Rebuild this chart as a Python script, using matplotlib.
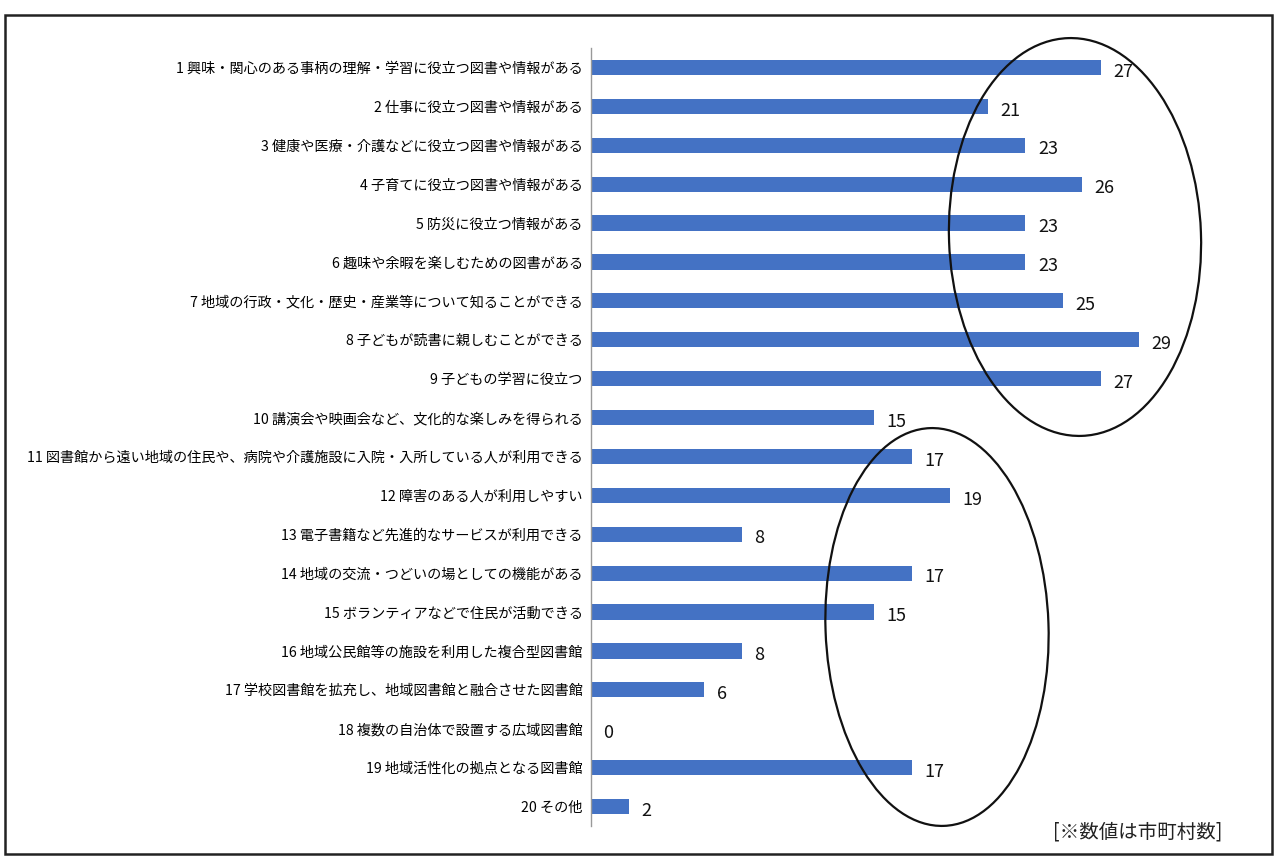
import matplotlib
matplotlib.use("Agg")
import matplotlib.pyplot as plt
from matplotlib.patches import Ellipse, Rectangle

plt.rcParams['font.family'] = ['Noto Sans CJK JP', 'DejaVu Sans']

# data
labels = [
    "1 興味・関心のある事柄の理解・学習に役立つ図書や情報がある",
    "2 仕事に役立つ図書や情報がある",
    "3 健康や医療・介護などに役立つ図書や情報がある",
    "4 子育てに役立つ図書や情報がある",
    "5 防災に役立つ情報がある",
    "6 趣味や余暇を楽しむための図書がある",
    "7 地域の行政・文化・歴史・産業等について知ることができる",
    "8 子どもが読書に親しむことができる",
    "9 子どもの学習に役立つ",
    "10 講演会や映画会など、文化的な楽しみを得られる",
    "11 図書館から遠い地域の住民や、病院や介護施設に入院・入所している人が利用できる",
    "12 障害のある人が利用しやすい",
    "13 電子書籍など先進的なサービスが利用できる",
    "14 地域の交流・つどいの場としての機能がある",
    "15 ボランティアなどで住民が活動できる",
    "16 地域公民館等の施設を利用した複合型図書館",
    "17 学校図書館を拡充し、地域図書館と融合させた図書館",
    "18 複数の自治体で設置する広域図書館",
    "19 地域活性化の拠点となる図書館",
    "20 その他",
]
values = [27, 21, 23, 26, 23, 23, 25, 29, 27, 15, 17, 19, 8, 17, 15, 8, 6, 0, 17, 2]
note = "[※数値は市町村数]"

blau = "#4472C4"
W, H = 1276, 858

fig = plt.figure(figsize=(W/100, H/100), dpi=100)
fig.patch.set_facecolor("white")
ax = fig.add_axes([591/W, (H-826)/H, (1252-591)/W, 778/H])

pos = list(range(1, len(values)+1))
ax.barh(pos, values, height=0.39, color=blau)
for p, v in zip(pos, values):
    ax.annotate(str(v), (v, p), xytext=(9, -3), textcoords="offset points",
                ha="left", va="center", fontsize=13, color="#111111")

ax.set_xlim(0, 35)
ax.set_ylim(20.5, 0.5)
ax.set_yticks(pos)
ax.set_yticklabels(labels, fontsize=10.2, color="#000000")
ax.tick_params(axis="y", length=0, pad=6)
ax.set_xticks([])
for s in ["top", "right", "bottom"]:
    ax.spines[s].set_visible(False)
ax.spines["left"].set_color("#999999")
ax.spines["left"].set_linewidth(1)

# ellipses drawn over the chart (pixel coords, origin bottom-left)
e1 = Ellipse((1075, H-237), 252, 398, angle=2, fill=False, lw=1.6, ec="#111111", transform=None)
e2 = Ellipse((937, H-627), 223, 398, angle=2, fill=False, lw=1.6, ec="#111111", transform=None)
fig.add_artist(e1)
fig.add_artist(e2)

# frame around the figure
fig.add_artist(Rectangle((5/W, (H-854)/H), (1272-5)/W, (854-15)/H, transform=fig.transFigure,
                         fill=False, lw=1.8, ec="#222222"))

fig.text(1222/W, (H-832)/H, note, ha="right", va="center", fontsize=14, color="#222222")

fig.savefig("out.png", dpi=100)
